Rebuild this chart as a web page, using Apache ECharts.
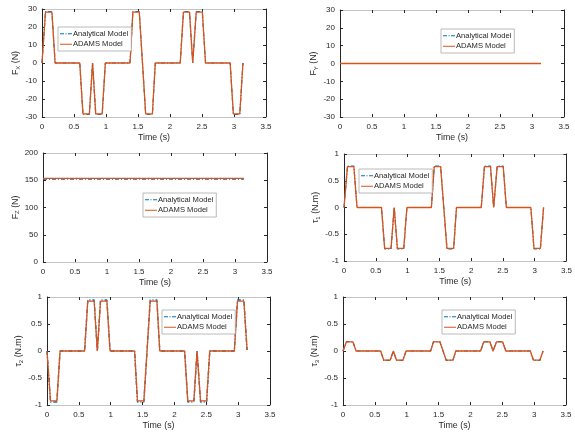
<!DOCTYPE html>
<html>
<head>
<meta charset="utf-8">
<script src="https://cdn.jsdelivr.net/npm/echarts@6/dist/echarts.min.js"></script>
<style>
  html, body { margin: 0; padding: 0; background: #fff; }
  #chart { width: 575px; height: 436px; }
</style>
</head>
<body>
<div id="chart"></div>
<script>
// Breakpoints of the joint-force / torque time histories (s)
const TIME = [0, 0.055, 0.155, 0.205, 0.59, 0.64, 0.74, 0.79, 0.84, 0.94, 0.99,
              1.375, 1.42, 1.52, 1.57, 1.62, 1.725, 1.77, 2.16, 2.21, 2.305, 2.355,
              2.41, 2.505, 2.555, 2.94, 2.99, 3.09, 3.14];
const TIME_FLAT = [0, 3.14];

// F_X (N)
const FX_ANALYTICAL = [0, 28.6, 28.6, 0, 0, -28.6, -28.6, 0, -28.6, -28.6, 0, 0, 28.6, 28.6, 0,
                       -28.6, -28.6, 0, 0, 28.6, 28.6, 0, 28.6, 28.6, 0, 0, -28.6, -28.6, 0];
const FX_ADAMS      = [0, 28.3, 28.3, 0, 0, -28.3, -28.3, 0, -28.3, -28.3, 0, 0, 28.3, 28.3, 0,
                       -28.3, -28.3, 0, 0, 28.3, 28.3, 0, 28.3, 28.3, 0, 0, -28.3, -28.3, 0];
// F_Y (N)
const FY_ANALYTICAL = [0, 0];
const FY_ADAMS      = [0, 0];
// F_Z (N)
const FZ_ANALYTICAL = [151.8, 151.8];
const FZ_ADAMS      = [153.4, 153.4];
// tau_1 (N.m)
const T1_ANALYTICAL = [0, 0.775, 0.775, 0, 0, -0.775, -0.775, 0, -0.775, -0.775, 0, 0, 0.775, 0.775, 0,
                       -0.775, -0.775, 0, 0, 0.775, 0.775, 0, 0.775, 0.775, 0, 0, -0.775, -0.775, 0];
const T1_ADAMS      = [0, 0.765, 0.765, 0, 0, -0.765, -0.765, 0, -0.765, -0.765, 0, 0, 0.765, 0.765, 0,
                       -0.765, -0.765, 0, 0, 0.765, 0.765, 0, 0.765, 0.765, 0, 0, -0.765, -0.765, 0];
// tau_2 (N.m)
const T2_ANALYTICAL = [0, -0.945, -0.945, 0, 0, 0.945, 0.945, 0, 0.945, 0.945, 0, 0, -0.945, -0.945, 0,
                       0.945, 0.945, 0, 0, -0.945, -0.945, 0, -0.945, -0.945, 0, 0, 0.945, 0.945, 0.02];
const T2_ADAMS      = [0, -0.925, -0.925, 0, 0, 0.925, 0.925, 0, 0.925, 0.925, 0, 0, -0.925, -0.925, 0,
                       0.925, 0.925, 0, 0, -0.925, -0.925, 0, -0.925, -0.925, 0, 0, 0.925, 0.925, 0.02];
// tau_3 (N.m)
const T3_ANALYTICAL = [0, 0.175, 0.175, 0, 0, -0.175, -0.175, 0, -0.175, -0.175, 0, 0, 0.175, 0.175, 0,
                       -0.175, -0.175, 0, 0, 0.175, 0.175, 0, 0.175, 0.175, 0, 0, -0.175, -0.175, 0];
const T3_ADAMS      = [0, 0.17, 0.17, 0, 0, -0.17, -0.17, 0, -0.17, -0.17, 0, 0, 0.17, 0.17, 0,
                       -0.17, -0.17, 0, 0, 0.17, 0.17, 0, 0.17, 0.17, 0, 0, -0.17, -0.17, 0];

const X_TICKS = { min: 0, max: 3.5, interval: 0.5 };
const SERIES_NAMES = ['Analytical Model', 'ADAMS Model'];

const FONT = "'Liberation Sans', Arial, Helvetica, sans-serif";
const DARK = '#262626';
const HLINE = '#c4c4c4';
const BLUE = '#0072BD';
const RED = '#D95319';

// legend glyphs: dash-dot stroke and solid stroke
const ICON_DASHDOT = 'path://M0,0h4v1h-4zM5.5,0h1v1h-1zM8,0h4v1h-4z';
const ICON_SOLID = 'path://M0,0h12v1h-12z';

const zip = (xs, ys) => xs.map((x, i) => [x, ys[i]]);

// Panel layout: plot rectangle, y-axis range, axis title and legend box
const panels = [
  { rect: [42, 9, 224, 108],  y: [-30, 30, 10],  name: '{m|F}{s|X}{m| (N)}',      legend: [58, 27],
    t: TIME, a: FX_ANALYTICAL, b: FX_ADAMS, wa: 1.2 },
  { rect: [340, 10, 224, 107], y: [-30, 30, 10], name: '{m|F}{s|Y}{m| (N)}',      legend: [441, 29],
    t: TIME_FLAT, a: FY_ANALYTICAL, b: FY_ADAMS, wa: 0.8 },
  { rect: [43, 153, 224, 109], y: [0, 200, 50],  name: '{m|F}{s|Z}{m| (N)}',      legend: [143, 193],
    t: TIME_FLAT, a: FZ_ANALYTICAL, b: FZ_ADAMS, wa: 1.0 },
  { rect: [344, 154, 224, 107], y: [-1, 1, 0.5], name: '{m|τ}{s|1}{m| (N.m)}',    legend: [359, 169],
    t: TIME, a: T1_ANALYTICAL, b: T1_ADAMS, wa: 1.2 },
  { rect: [47, 297, 223, 108], y: [-1, 1, 0.5],  name: '{m|τ}{s|2}{m| (N.m)}',    legend: [162, 310],
    t: TIME, a: T2_ANALYTICAL, b: T2_ADAMS, wa: 1.4 },
  { rect: [343, 297, 223, 108], y: [-1, 1, 0.5], name: '{m|τ}{s|3}{m| (N.m)}',    legend: [442, 310],
    t: TIME, a: T3_ANALYTICAL, b: T3_ADAMS, wa: 1.2 }
];

const grid = [], xAxis = [], yAxis = [], series = [], legend = [];

panels.forEach((p, i) => {
  grid.push({ left: p.rect[0], top: p.rect[1], width: p.rect[2], height: p.rect[3], containLabel: false });

  const tick = { show: true, inside: true, length: 3, lineStyle: { color: DARK, width: 1 } };

  // bottom axis with labels, top axis as the mirrored box edge
  xAxis.push({
    type: 'value', gridIndex: i, position: 'bottom', ...X_TICKS,
    name: 'Time (s)', nameLocation: 'middle', nameGap: 16,
    nameTextStyle: { fontFamily: FONT, fontSize: 8.8, color: DARK },
    axisLine: { show: true, onZero: false, lineStyle: { color: HLINE, width: 1 } },
    axisTick: tick,
    axisLabel: { fontFamily: FONT, fontSize: 8, color: DARK, margin: 6 },
    splitLine: { show: false }
  });
  xAxis.push({
    type: 'value', gridIndex: i, position: 'top', ...X_TICKS,
    axisLine: { show: true, onZero: false, lineStyle: { color: HLINE, width: 1 } },
    axisTick: tick, axisLabel: { show: false }, splitLine: { show: false }
  });

  yAxis.push({
    type: 'value', gridIndex: i, position: 'left', min: p.y[0], max: p.y[1], interval: p.y[2],
    name: p.name, nameLocation: 'middle', nameRotate: 90, nameGap: 13,
    nameTextStyle: {
      fontFamily: FONT, color: DARK,
      rich: {
        m: { fontFamily: FONT, fontSize: 8.8, color: DARK },
        s: { fontFamily: FONT, fontSize: 6, color: DARK, padding: [5, 0, 0, 0] }
      }
    },
    axisLine: { show: true, onZero: false, lineStyle: { color: DARK, width: 1 } },
    axisTick: tick,
    axisLabel: { fontFamily: FONT, fontSize: 8, color: DARK, margin: 5 },
    splitLine: { show: false }
  });
  yAxis.push({
    type: 'value', gridIndex: i, position: 'right', min: p.y[0], max: p.y[1], interval: p.y[2],
    axisLine: { show: true, onZero: false, lineStyle: { color: DARK, width: 1 } },
    axisTick: tick, axisLabel: { show: false }, splitLine: { show: false }
  });

  series.push({
    name: SERIES_NAMES[0], type: 'line', xAxisIndex: 2 * i, yAxisIndex: 2 * i,
    data: zip(p.t, p.a), showSymbol: false, symbol: 'none', animation: false, z: 2,
    lineStyle: { color: BLUE, width: p.wa, type: [4, 2, 1, 2] }, itemStyle: { color: BLUE }
  });
  series.push({
    name: SERIES_NAMES[1], type: 'line', xAxisIndex: 2 * i, yAxisIndex: 2 * i,
    data: zip(p.t, p.b), showSymbol: false, symbol: 'none', animation: false, z: 3,
    lineStyle: { color: RED, width: 1.3 }, itemStyle: { color: RED }
  });

  legend.push({
    left: p.legend[0], top: p.legend[1], orient: 'vertical',
    data: [
      { name: SERIES_NAMES[0], icon: ICON_DASHDOT, itemStyle: { color: BLUE, borderWidth: 0, opacity: 1 } },
      { name: SERIES_NAMES[1], icon: ICON_SOLID, itemStyle: { color: RED, borderWidth: 0, opacity: 1 } }
    ],
    selectedMode: false,
    itemWidth: 12, itemHeight: 1.6, itemGap: 1,
    padding: [2, 3, 2, 2],
    backgroundColor: '#fff', borderColor: '#a8a8a8', borderWidth: 0.8, borderRadius: 0,
    textStyle: { fontFamily: FONT, fontSize: 7.6, color: DARK, lineHeight: 9.5, padding: [0, 0, 0, -4] }
  });
});

const chart = echarts.init(document.getElementById('chart'), null, { renderer: 'canvas' });
chart.setOption({
  animation: false,
  backgroundColor: '#fff',
  grid, xAxis, yAxis, series, legend
});
</script>
</body>
</html>
